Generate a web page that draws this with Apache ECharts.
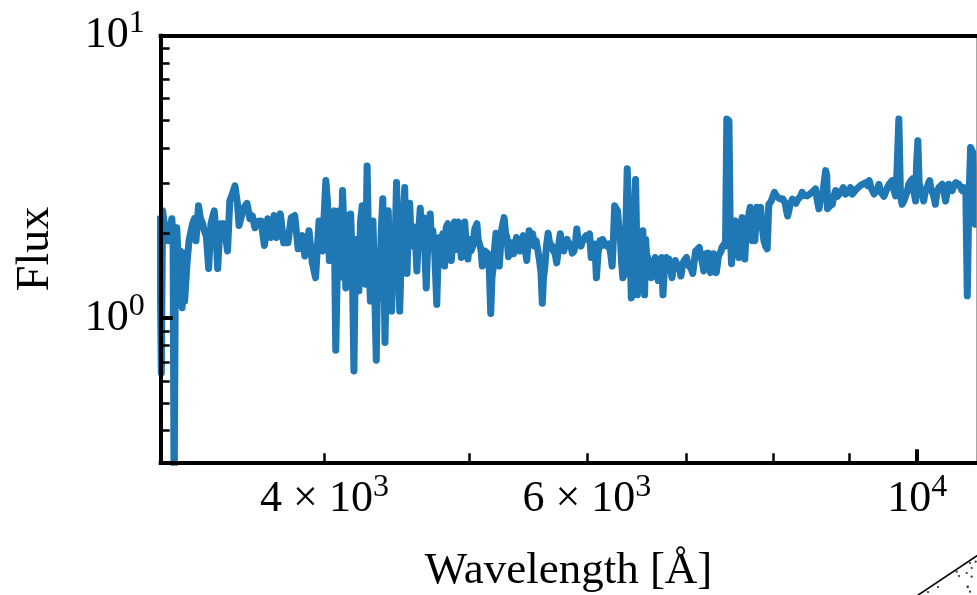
<!DOCTYPE html>
<html>
<head>
<meta charset="utf-8">
<script src="https://cdn.jsdelivr.net/npm/echarts@6/dist/echarts.min.js"></script>
<style>
  html, body { margin: 0; padding: 0; background: #fff; }
  #chart { width: 977px; height: 595px; }
</style>
</head>
<body>
<div id="chart"></div>
<script>
// ---- Data (wavelength in Å, flux) ----
const wavelength = [
  3100, 3108, 3114, 3125, 3142, 3159, 3165, 3170, 3176, 3183, 3192, 3200, 3210, 3216, 3222, 3235, 3244, 3262, 3271, 3279,
  3292, 3302, 3313, 3321, 3332, 3344, 3356, 3373, 3382, 3391, 3404, 3424, 3443, 3455, 3469, 3483, 3496, 3505, 3518, 3529,
  3548, 3564, 3578, 3592, 3608, 3626, 3645, 3664, 3682, 3700, 3715, 3736, 3755, 3780, 3799, 3820, 3840, 3852, 3864, 3880,
  3905, 3925, 3945, 3966, 3987, 4008, 4018, 4030, 4046, 4060, 4070, 4080, 4091, 4102, 4113, 4124, 4134, 4144, 4155, 4165,
  4175, 4186, 4197, 4208, 4218, 4229, 4240, 4250, 4261, 4272, 4283, 4294, 4302, 4311, 4322, 4333, 4344, 4355, 4366, 4377,
  4385, 4392, 4403, 4414, 4425, 4437, 4448, 4460, 4471, 4482, 4493, 4505, 4516, 4528, 4536, 4544, 4553, 4563, 4575, 4586,
  4600, 4614, 4626, 4638, 4650, 4662, 4672, 4681, 4695, 4710, 4720, 4729, 4743, 4758, 4768, 4778, 4790, 4803, 4816, 4828,
  4840, 4853, 4866, 4878, 4891, 4904, 4917, 4930, 4942, 4955, 4968, 4980, 4993, 5005, 5017, 5030, 5046, 5063, 5072, 5084,
  5095, 5105, 5115, 5124, 5138, 5151, 5160, 5172, 5182, 5191, 5202, 5214, 5225, 5241, 5251, 5261, 5280, 5292, 5303, 5316,
  5331, 5345, 5358, 5370, 5382, 5395, 5410, 5425, 5440, 5455, 5468, 5478, 5488, 5503, 5518, 5533, 5548, 5562, 5577, 5590,
  5601, 5612, 5622, 5637, 5652, 5664, 5676, 5687, 5698, 5712, 5728, 5744, 5759, 5775, 5790, 5805, 5820, 5836, 5851, 5867,
  5883, 5896, 5908, 5919, 5930, 5946, 5962, 5978, 5993, 6010, 6026, 6041, 6058, 6075, 6090, 6106, 6123, 6136, 6149, 6164,
  6178, 6192, 6206, 6225, 6240, 6252, 6264, 6278, 6292, 6305, 6318, 6330, 6344, 6363, 6375, 6387, 6396, 6405, 6416, 6427,
  6440, 6452, 6462, 6470, 6480, 6488, 6500, 6513, 6528, 6543, 6552, 6561, 6572, 6580, 6600, 6615, 6630, 6650, 6668, 6685,
  6700, 6718, 6736, 6750, 6768, 6785, 6800, 6812, 6830, 6845, 6862, 6880, 6898, 6915, 6928, 6940, 6958, 6975, 6988, 7000,
  7015, 7030, 7050, 7068, 7085, 7100, 7120, 7140, 7155, 7170, 7190, 7210, 7230, 7240, 7265, 7280, 7295, 7300, 7320, 7330,
  7355, 7385, 7395, 7420, 7435, 7450, 7475, 7490, 7505, 7520, 7535, 7550, 7565, 7578, 7590, 7610, 7630, 7645, 7660, 7675,
  7690, 7705, 7725, 7740, 7750, 7765, 7780, 7795, 7805, 7830, 7850, 7870, 7890, 7910, 7930, 7950, 7965, 7980, 8000, 8020,
  8040, 8060, 8080, 8095, 8120, 8140, 8155, 8170, 8185, 8200, 8220, 8245, 8270, 8290, 8310, 8330, 8350, 8370, 8400, 8435,
  8470, 8500, 8520, 8545, 8570, 8590, 8610, 8635, 8660, 8680, 8695, 8705, 8740, 8770, 8790, 8815, 8840, 8860, 8890, 8920,
  8950, 8975, 9000, 9020, 9045, 9070, 9095, 9120, 9160, 9190, 9210, 9235, 9260, 9285, 9310, 9330, 9355, 9380, 9400, 9425,
  9450, 9475, 9500, 9525, 9550, 9575, 9600, 9620, 9645, 9670, 9690, 9720, 9745, 9770, 9795, 9820, 9845, 9870, 9895, 9925,
  9950, 9975, 9990, 10010, 10030, 10050, 10075, 10100, 10125, 10155, 10175, 10195, 10210, 10230, 10260, 10285, 10310, 10340, 10365, 10395,
  10420, 10450, 10475, 10500, 10530, 10555, 10585, 10615, 10640, 10665, 10695, 10720, 10750, 10780, 10805, 10830, 10860, 10900, 10940, 10990
];
const flux = [
  2.25, 0.64, 2.40, 2.10, 1.88, 2.25, 1.90, 0.22, 1.40, 2.09, 1.50, 1.73, 1.09, 1.70, 1.15, 1.60, 1.88, 2.16, 2.25, 1.88,
  2.50, 2.25, 2.16, 2.04, 1.95, 1.50, 2.16, 2.40, 2.00, 1.50, 2.16, 2.16, 1.73, 2.60, 2.76, 2.94, 2.55, 2.13, 2.30, 2.45,
  2.55, 2.25, 2.30, 2.09, 2.20, 2.21, 1.81, 2.25, 1.93, 2.31, 1.93, 2.34, 1.85, 1.85, 2.27, 2.31, 1.76, 1.93, 1.96, 1.66,
  2.04, 1.57, 1.39, 2.21, 1.73, 3.07, 2.60, 1.60, 2.31, 2.40, 0.77, 1.50, 2.40, 1.40, 2.83, 1.90, 1.28, 2.31, 1.45, 2.34,
  1.60, 0.65, 1.90, 1.40, 1.25, 2.20, 2.50, 1.50, 1.32, 3.46, 1.70, 1.15, 1.90, 2.21, 1.30, 0.71, 1.60, 1.18, 2.00, 2.65,
  1.50, 0.82, 1.80, 2.40, 1.50, 1.06, 1.80, 1.70, 3.02, 1.60, 1.06, 1.73, 2.20, 2.90, 1.70, 1.44, 2.10, 2.55, 1.80, 1.99,
  2.10, 1.47, 2.00, 2.45, 1.90, 2.27, 1.70, 1.28, 2.00, 2.34, 1.80, 2.04, 1.70, 1.12, 1.70, 1.93, 1.75, 1.99, 1.53, 2.10,
  2.16, 1.80, 1.60, 1.90, 2.19, 1.75, 2.19, 1.90, 1.64, 1.90, 2.19, 1.80, 1.62, 1.90, 1.73, 1.80, 2.07, 2.16, 1.90, 1.90,
  1.75, 1.53, 1.65, 1.73, 1.75, 1.69, 1.50, 1.04, 1.40, 1.50, 1.75, 2.00, 1.70, 1.53, 1.80, 2.07, 2.27, 2.00, 1.93, 1.65,
  1.73, 1.85, 1.69, 1.80, 1.93, 1.85, 1.73, 1.80, 1.96, 1.75, 1.60, 1.80, 2.04, 1.85, 1.99, 1.80, 1.88, 1.75, 1.60, 1.45,
  1.13, 1.40, 1.50, 1.80, 2.00, 1.85, 1.88, 1.80, 1.73, 1.70, 1.57, 1.80, 1.99, 1.80, 1.73, 1.85, 1.90, 1.80, 1.83, 1.70,
  1.73, 1.85, 2.07, 1.90, 1.88, 1.80, 1.88, 1.85, 1.96, 1.90, 1.99, 1.64, 1.75, 1.83, 1.39, 1.70, 1.88, 1.80, 1.90, 1.85,
  1.88, 1.80, 1.83, 1.70, 1.53, 1.90, 2.50, 2.45, 2.40, 2.10, 1.99, 1.60, 1.39, 1.44, 2.20, 3.38, 3.40, 3.33, 1.80, 1.18,
  1.40, 1.21, 2.20, 3.10, 2.00, 1.21, 1.50, 1.73, 1.85, 2.04, 1.60, 1.21, 1.90, 1.69, 1.60, 1.50, 1.39, 1.55, 1.64, 1.50,
  1.36, 1.55, 1.64, 1.21, 1.55, 1.64, 1.58, 1.62, 1.50, 1.39, 1.55, 1.60, 1.55, 1.56, 1.48, 1.41, 1.55, 1.60, 1.60, 1.64,
  1.55, 1.57, 1.50, 1.44, 1.60, 1.73, 1.75, 1.78, 1.64, 1.60, 1.47, 1.69, 1.66, 1.70, 1.45, 1.47, 1.62, 1.69, 1.56, 1.45,
  1.66, 1.73, 1.78, 1.83, 1.80, 5.07, 5.00, 2.00, 1.56, 1.90, 2.15, 2.21, 2.20, 1.80, 1.64, 2.00, 2.27, 1.90, 1.62, 2.00,
  2.21, 2.30, 2.47, 2.10, 1.88, 1.95, 1.88, 2.20, 2.47, 2.40, 2.47, 2.10, 1.88, 1.80, 1.76, 2.53, 2.55, 2.60, 2.70, 2.79,
  2.72, 2.68, 2.65, 2.64, 2.65, 2.68, 2.55, 2.40, 2.30, 2.27, 2.55, 2.64, 2.62, 2.55, 2.62, 2.64, 2.70, 2.79, 2.72, 2.71,
  2.75, 2.79, 2.80, 2.87, 2.60, 2.44, 2.60, 2.68, 2.70, 3.33, 3.20, 2.44, 2.50, 2.53, 2.70, 2.83, 2.70, 2.71, 2.80, 2.90,
  2.75, 2.71, 2.80, 2.90, 2.75, 2.71, 2.85, 2.87, 2.95, 2.98, 3.00, 3.02, 2.95, 3.07, 2.90, 2.90, 2.75, 2.71, 2.85, 2.98,
  2.80, 2.79, 2.70, 2.71, 2.90, 2.98, 3.00, 3.07, 2.85, 2.71, 3.20, 5.07, 2.70, 2.53, 2.60, 2.60, 2.80, 2.98, 3.05, 3.11,
  2.80, 2.60, 3.50, 4.25, 3.00, 2.90, 2.75, 2.60, 2.80, 2.90, 3.00, 3.07, 2.90, 2.90, 2.70, 2.53, 2.80, 2.90, 2.90, 2.98,
  2.80, 2.60, 2.80, 2.98, 2.90, 2.83, 2.95, 3.02, 2.98, 2.98, 2.90, 2.83, 2.90, 2.85, 1.20, 2.50, 4.02, 3.85, 2.15, 2.40
];

// ---- Axes ----
const xMin = 3105, xMax = 10960;
const yMin = 0.309, yMax = 10;
const xMajorTicks = [10000];
const xMinorTicks = [4000, 5000, 6000, 7000, 8000, 9000];
const xLabelValues = [4000, 6000, 10000];
const xLabelTexts = ['4 × 10^3', '6 × 10^3', '10^4'];
const yMajorTicks = [1, 10];
const yMinorTicks = [0.4, 0.5, 0.6, 0.7, 0.8, 0.9, 2, 3, 4, 5, 6, 7, 8, 9];
const yLabelValues = [1, 10];
const yLabelTexts = ['10^0', '10^1'];
const xTitle = 'Wavelength [Å]';
const yTitle = 'Flux';

const FONT = "'Liberation Serif', 'Times New Roman', serif";

function toRich(s) {
  const parts = s.split('^');
  return '{b|' + parts[0] + '}{s|' + parts[1] + '}';
}
function makeFormatter(values, texts) {
  return function (v) {
    for (let i = 0; i < values.length; i++) {
      if (Math.abs(values[i] - v) / values[i] < 1e-6) return toRich(texts[i]);
    }
    return '';
  };
}
const rich = {
  b: { fontSize: 44, lineHeight: 44, fontFamily: FONT, color: '#000' },
  s: { fontSize: 32, height: 20, verticalAlign: 'top', fontFamily: FONT, color: '#000' }
};

const chart = echarts.init(document.getElementById('chart'), null, { renderer: 'canvas' });

const spine = { show: true, onZero: false, lineStyle: { color: '#000', width: 4, cap: 'square' } };

const option = {
  animation: false,
  backgroundColor: '#fff',
  grid: {
    left: 160.7, right: 0.5, top: 35.7, bottom: 132.7,
    containLabel: false, outerBoundsMode: 'none'
  },
  xAxis: [
    {
      type: 'log', position: 'bottom', min: xMin, max: xMax, z: 10,
      axisLine: spine,
      axisTick: { show: true, inside: true, length: 13, lineStyle: { color: '#000', width: 4 }, customValues: xMajorTicks },
      axisLabel: { show: false },
      splitLine: { show: false },
      name: xTitle, nameLocation: 'middle', nameGap: 86,
      nameTextStyle: { fontSize: 45, fontFamily: FONT, color: '#000' }
    },
    {
      type: 'log', position: 'bottom', min: xMin, max: xMax, z: 10,
      axisLine: { show: false, onZero: false },
      axisTick: { show: true, inside: true, length: 9, lineStyle: { color: '#000', width: 2.5 }, customValues: xMinorTicks },
      axisLabel: {
        show: true, margin: 15, customValues: xLabelValues,
        formatter: makeFormatter(xLabelValues, xLabelTexts), rich: rich
      },
      splitLine: { show: false }
    },
    {
      type: 'log', position: 'top', min: xMin, max: xMax, z: 10,
      axisLine: spine,
      axisTick: { show: false }, axisLabel: { show: false }, splitLine: { show: false }
    }
  ],
  yAxis: [
    {
      type: 'log', position: 'left', min: yMin, max: yMax, z: 10,
      axisLine: spine,
      axisTick: { show: true, inside: true, length: 12, lineStyle: { color: '#000', width: 4 }, customValues: yMajorTicks },
      axisLabel: {
        show: true, margin: 16, customValues: yLabelValues,
        formatter: makeFormatter(yLabelValues, yLabelTexts), rich: rich
      },
      splitLine: { show: false },
      name: yTitle, nameLocation: 'middle', nameGap: 102, nameRotate: 90,
      nameTextStyle: { fontSize: 46, fontFamily: FONT, color: '#000' }
    },
    {
      type: 'log', position: 'left', min: yMin, max: yMax, z: 10,
      axisLine: { show: false, onZero: false },
      axisTick: { show: true, inside: true, length: 9, lineStyle: { color: '#000', width: 2.5 }, customValues: yMinorTicks },
      axisLabel: { show: false },
      splitLine: { show: false }
    },
    {
      type: 'log', position: 'right', min: yMin, max: yMax, z: 10,
      axisLine: { show: true, onZero: false, lineStyle: { color: '#8a8a8a', width: 1.5 } },
      axisTick: { show: false }, axisLabel: { show: false }, splitLine: { show: false }
    }
  ],
  series: [
    {
      type: 'line',
      xAxisIndex: 0, yAxisIndex: 0,
      data: wavelength.map((w, i) => [w, flux[i]]),
      showSymbol: false, symbol: 'none',
      clip: true,
      lineStyle: { color: '#1f77b4', width: 7, cap: 'round', join: 'round' }
    }
  ],
  graphic: [
    {
      type: 'group', silent: true, z: 20,
      children: [
        { type: 'line', shape: { x1: 916.7, y1: 596, x2: 978, y2: 555 }, style: { stroke: '#000', lineWidth: 1.6 } },
        { type: 'circle', shape: { cx: 928, cy: 592, r: 1.1 }, style: { fill: '#333' } },
        { type: 'circle', shape: { cx: 938, cy: 587, r: 1.1 }, style: { fill: '#333' } },
        { type: 'circle', shape: { cx: 956.7, cy: 571.7, r: 1.1 }, style: { fill: '#333' } },
        { type: 'circle', shape: { cx: 959, cy: 576, r: 1.1 }, style: { fill: '#333' } },
        { type: 'circle', shape: { cx: 966.7, cy: 573, r: 1.1 }, style: { fill: '#333' } },
        { type: 'circle', shape: { cx: 967.7, cy: 586.7, r: 1.3 }, style: { fill: '#333' } },
        { type: 'circle', shape: { cx: 970, cy: 591.7, r: 1.1 }, style: { fill: '#333' } },
        { type: 'circle', shape: { cx: 971.7, cy: 568, r: 1.1 }, style: { fill: '#333' } },
        { type: 'circle', shape: { cx: 971.7, cy: 576.7, r: 1.1 }, style: { fill: '#333' } },
        { type: 'circle', shape: { cx: 970, cy: 563, r: 1.1 }, style: { fill: '#333' } },
        { type: 'circle', shape: { cx: 975.7, cy: 561.7, r: 1.1 }, style: { fill: '#333' } }
      ]
    }
  ]
};
chart.setOption(option);
</script>
</body>
</html>
